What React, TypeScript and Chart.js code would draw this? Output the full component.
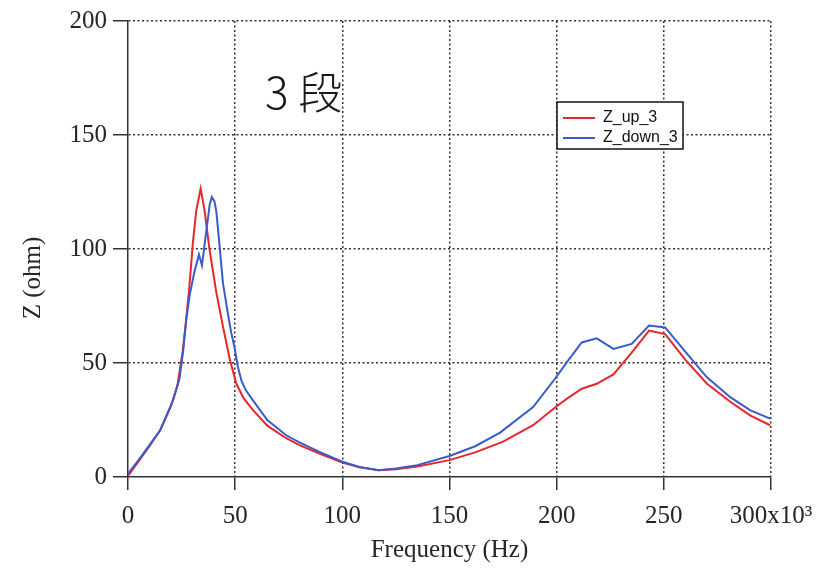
import { useEffect, useRef } from 'react';
import { Chart, registerables } from 'chart.js';

Chart.register(...registerables);

// Impedance sweep, frequency in kHz (axis shows x10^3 Hz)
const freqUp = [
  0, 5, 10, 15, 20, 23, 25.5, 27, 28.5, 30.3, 31.8, 33.9, 35.7, 38, 41.2, 44.3, 47.4, 50.5, 54, 58.3,
  65, 73.8, 80, 89.3, 100, 108, 117, 125, 135, 150, 162, 175, 189, 200, 205, 211.7, 218.7, 226.5,
  235, 243.1, 250.6, 260, 270, 281, 290.2, 299.6,
];
const zUp = [
  0.5, 7, 13.5, 20.5, 31, 40, 55, 68, 82, 103, 116.6, 126.5, 117, 100, 81, 66, 52, 41, 34.5, 29.3,
  22.5, 17, 14, 10.3, 6.3, 4.3, 3, 3.4, 4.6, 7.4, 10.8, 15.5, 22.7, 31, 34.5, 38.7, 40.9, 45,
  54.5, 64.2, 62.7, 51.5, 41, 33, 27, 22.7,
];
const freqDown = [
  0, 5, 10, 15, 21, 24, 25.7, 27.2, 28.8, 31, 33.1, 34.5, 36.8, 38.1, 39.1, 40.3, 41.2, 42.7, 44.3,
  46.6, 48.1, 49.7, 51.2, 53, 55, 58.3, 65, 73.8, 80, 89.3, 100, 108, 117, 125, 135, 150, 162, 173.6,
  189, 199.3, 204.7, 211.7, 218.7, 226.5, 235, 243.1, 250.6, 260, 270, 281, 290.2, 299.6,
];
const zDown = [
  1.5, 7.5, 14, 20.5, 33.6, 43, 55, 69, 80, 90, 97.6, 92.8, 109.8, 119.3, 122.8, 121, 116.6, 101.6, 85,
  71.7, 63.6, 56.8, 48.6, 42, 38, 33.6, 25, 18.3, 15.2, 11, 6.7, 4.4, 3, 3.7, 5.2, 9.2, 13.5, 19.5,
  30.7, 43.2, 50.3, 59, 60.8, 56.2, 58.4, 66.4, 65.6, 55, 43.8, 35, 29.3, 25.6,
];

const xTickValues = [0, 50, 100, 150, 200, 250, 300];
const seriesNames = ['Z_up_3', 'Z_down_3'];
const seriesColors = ['#e8262c', '#3a5cc9'];
const xTitle = 'Frequency (Hz)';
const yTitle = 'Z (ohm)';
const stageLabel = '3 段';

const SERIF = '"Liberation Serif", "Times New Roman", serif';
const SANS = '"Liberation Sans", Arial, sans-serif';
const INK = '#262626';
const GRID = '#333333';

const overlayPlugin = {
  id: 'overlay',
  afterDraw(chart: any) {
    const { ctx, chartArea: a } = chart;
    ctx.save();

    // axis titles
    ctx.fillStyle = INK;
    ctx.font = `25px ${SERIF}`;
    ctx.textAlign = 'center';
    ctx.textBaseline = 'middle';
    ctx.fillText(xTitle, (a.left + a.right) / 2, a.bottom + 73);
    ctx.save();
    ctx.translate(a.left - 95, (a.top + a.bottom) / 2 + 29);
    ctx.rotate(-Math.PI / 2);
    ctx.fillText(yTitle, 0, 0);
    ctx.restore();

    // stage label
    ctx.fillStyle = '#1a1a1a';
    ctx.font = `300 44px "Noto Sans CJK JP", "Noto Sans", sans-serif`;
    ctx.textAlign = 'left';
    ctx.textBaseline = 'alphabetic';
    ctx.fillText(stageLabel, a.left + 137, a.top + 88);

    // legend box
    const bx = a.left + 429;
    const by = a.top + 81;
    const bw = 126;
    const bh = 47;
    ctx.fillStyle = '#ffffff';
    ctx.fillRect(bx, by, bw, bh);
    ctx.strokeStyle = '#111';
    ctx.lineWidth = 1.5;
    ctx.strokeRect(bx, by, bw, bh);
    ctx.font = `16px ${SANS}`;
    ctx.textBaseline = 'middle';
    chart.data.datasets
      .slice()
      .sort((p: any, q: any) => seriesNames.indexOf(p.label) - seriesNames.indexOf(q.label))
      .forEach((ds: any, i: number) => {
        const yy = by + 16 + i * 20;
        ctx.strokeStyle = ds.borderColor;
        ctx.lineWidth = 2;
        ctx.beginPath();
        ctx.moveTo(bx + 6, yy);
        ctx.lineTo(bx + 38, yy);
        ctx.stroke();
        ctx.fillStyle = '#111';
        ctx.fillText(ds.label, bx + 46, yy);
      });

    ctx.restore();
  },
};

export default function App() {
  const canvasRef = useRef<HTMLCanvasElement | null>(null);

  useEffect(() => {
    const canvas = canvasRef.current;
    if (!canvas) return;

    const hideZero = (c: any) => (c.tick && c.tick.value === 0 ? 'rgba(0,0,0,0)' : GRID);

    const chart = new Chart(canvas, {
      type: 'line',
      data: {
        datasets: [
          {
            label: seriesNames[0],
            data: freqUp.map((f, i) => ({ x: f, y: zUp[i] })),
            borderColor: seriesColors[0],
            backgroundColor: seriesColors[0],
            borderWidth: 2,
            pointRadius: 0,
            tension: 0,
            order: 1,
          },
          {
            label: seriesNames[1],
            data: freqDown.map((f, i) => ({ x: f, y: zDown[i] })),
            borderColor: seriesColors[1],
            backgroundColor: seriesColors[1],
            borderWidth: 2,
            pointRadius: 0,
            tension: 0,
            order: 0,
          },
        ],
      },
      options: {
        animation: false,
        responsive: true,
        maintainAspectRatio: false,
        layout: { padding: { top: 19, right: 61, bottom: 0, left: 0 } },
        plugins: {
          legend: { display: false },
          tooltip: { enabled: false },
        },
        scales: {
          x: {
            type: 'linear',
            min: 0,
            max: 300,
            afterFit: (s: any) => {
              s.height = 92;
            },
            afterBuildTicks: (s: any) => {
              s.ticks = xTickValues.map((v) => ({ value: v }));
            },
            ticks: {
              color: INK,
              font: { family: SERIF, size: 25 },
              padding: 11,
              maxRotation: 0,
              callback: (v: any) => (v === 300 ? '300x10³' : String(v)),
            },
            grid: {
              color: hideZero,
              lineWidth: 1.5,
              tickLength: 13,
              tickColor: GRID,
              tickWidth: 1.5,
            },
            border: { display: true, color: GRID, width: 1.5, dash: [2, 2.5] },
          },
          y: {
            type: 'linear',
            min: 0,
            max: 200,
            afterFit: (s: any) => {
              s.width = 128;
            },
            ticks: {
              stepSize: 50,
              color: INK,
              font: { family: SERIF, size: 25 },
              padding: 6,
            },
            grid: {
              color: hideZero,
              lineWidth: 1.5,
              tickLength: 15,
              tickColor: GRID,
              tickWidth: 1.5,
            },
            border: { display: true, color: GRID, width: 1.5, dash: [2, 2.5] },
          },
        },
      },
      plugins: [overlayPlugin],
    });

    return () => chart.destroy();
  }, []);

  return (
    <div
      style={{
        position: 'absolute',
        left: 0,
        top: 0,
        width: 832,
        height: 569,
        background: '#ffffff',
      }}
    >
      <canvas ref={canvasRef} />
    </div>
  );
}
